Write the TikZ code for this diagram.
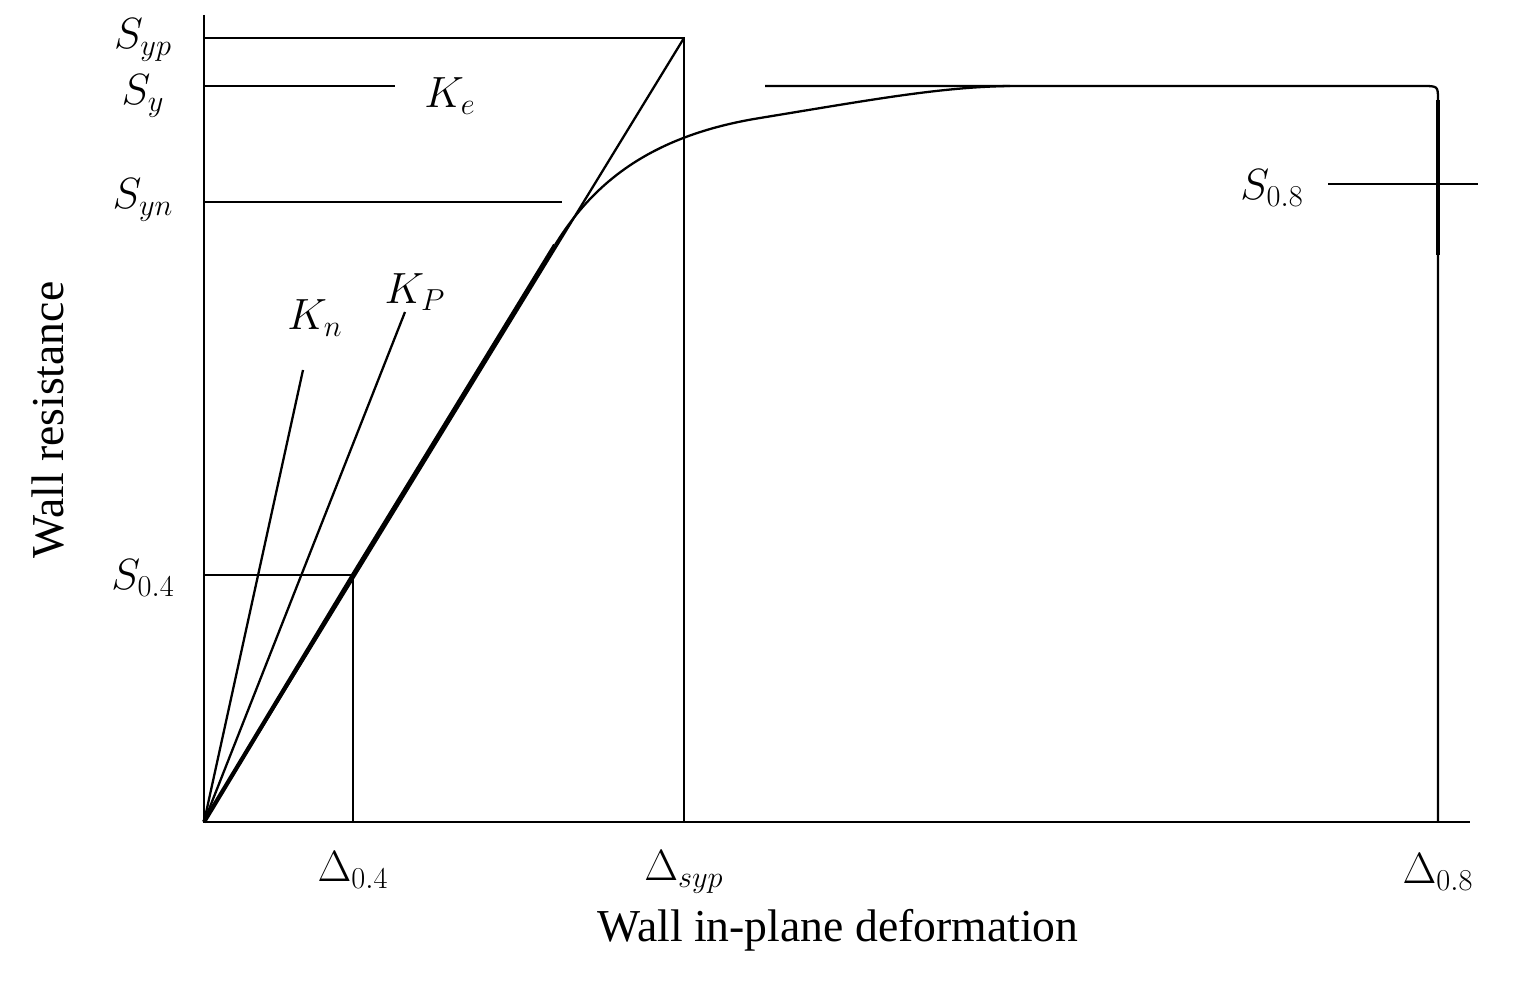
\documentclass[tikz,border=0pt]{standalone}
\usepackage{fontspec}
\setmainfont{Liberation Serif}
\begin{document}
\begin{tikzpicture}[x=0.02cm,y=-0.02cm,
  ln/.style={line width=1.3pt},
  thk/.style={line width=2.4pt},
  lab/.style={font=\fontsize{26}{30}\selectfont, inner sep=0pt}]
\useasboundingbox (0,0) rectangle (1525,982);
\coordinate (O) at (204,822);
\coordinate (ytop) at (204,15);
\coordinate (xend) at (1470,822);
\draw[ln] (ytop) -- (O) -- (xend);
% horizontals
\coordinate (syp) at (684,38);
\draw[ln] (204,38) -- (syp) -- (684,822);
\draw[ln] (204,86) -- (395,86);
\draw[ln] (204,202) -- (562,202);
\coordinate (p04) at (353,575);
\draw[ln] (204,575) -- (p04) -- (353,822);
% stiffness lines
\draw[ln] (O) -- (syp);
\draw[ln] (O) -- (303,370);
\draw[ln] (O) -- (405,312);
% curve
\draw[thk] (O) -- (p04) -- (555,245);
\draw[ln] (555,245) .. controls (592,185) and (648,136) .. (760,118)
  .. controls (870,100) and (940,87) .. (1010,86);
\draw[ln] (765,86) -- (1422,86) .. controls (1438,86) .. (1438,100) -- (1438,822);
\draw[thk] (1438,100) -- (1438,255);
\draw[ln] (1328,184) -- (1478,184);
% labels
\node[lab] at (143,40) {$S_{yp}$};
\node[lab] at (143,96) {$S_{y}$};
\node[lab] at (143,200) {$S_{yn}$};
\node[lab] at (143,578) {$S_{0.4}$};
\node[lab] at (450,96) {$K_{e}$};
\node[lab] at (315,318) {$K_{n}$};
\node[lab] at (415,292) {$K_{P}$};
\node[lab] at (1272,188) {$S_{0.8}$};
\node[lab] at (353,870) {$\Delta_{0.4}$};
\node[lab] at (684,872) {$\Delta_{syp}$};
\node[lab] at (1438,872) {$\Delta_{0.8}$};
\node[lab] at (838,930) {Wall in-plane deformation};
\node[lab,rotate=90] at (48,420) {Wall resistance};
\end{tikzpicture}
\end{document}
